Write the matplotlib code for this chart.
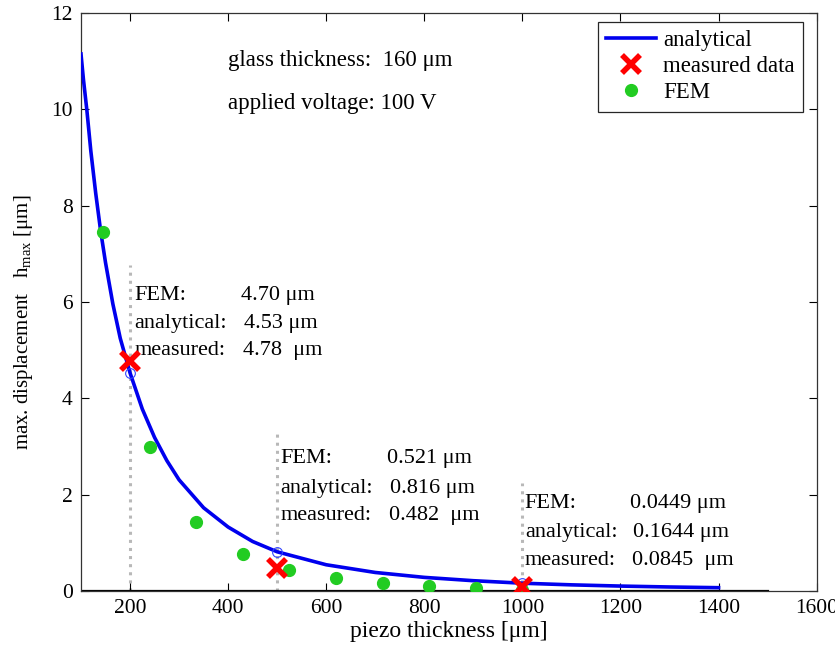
import numpy as np
import matplotlib
matplotlib.use('Agg')
import matplotlib.pyplot as plt

plt.rcParams['font.family'] = ['Liberation Serif', 'DejaVu Serif']
plt.rcParams['mathtext.fontset'] = 'custom'
plt.rcParams['mathtext.rm'] = 'Liberation Serif'
plt.rcParams['font.size'] = 16

# analytical curve
x_ana = [100, 105, 112, 120, 130, 140, 150, 165, 180, 200, 225, 250, 275, 300,
         350, 400, 450, 500, 600, 700, 800, 900, 1000, 1100, 1200, 1300, 1400]
y_ana = [11.15, 10.62, 9.98, 9.14, 8.26, 7.48, 6.82, 5.96, 5.25, 4.53, 3.78, 3.19, 2.71, 2.31,
         1.73, 1.33, 1.03, 0.816, 0.547, 0.387, 0.285, 0.216, 0.164, 0.130, 0.1045, 0.0855, 0.071]

# measured data
x_meas = [200, 500, 1000]
y_meas = [4.78, 0.482, 0.0845]
y_ana_pts = [4.53, 0.816, 0.1644]

# FEM points
x_fem = [145, 240, 335, 430, 525, 620, 715, 810, 905, 1000]
y_fem = [7.45, 3.0, 1.43, 0.77, 0.44, 0.27, 0.17, 0.10, 0.06, 0.03]

# annotation blocks
guide_top = [6.77, 3.28, 2.24]
labels = ['FEM:', 'analytical:', 'measured:']
block_values = [['4.70 μm', '4.53 μm', '4.78  μm'],
                ['0.521 μm', '0.816 μm', '0.482  μm'],
                ['0.0449 μm', '0.1644 μm', '0.0845  μm']]
label_x = [209, 507, 1005]
value_x = [(426, 432, 430), (723, 730, 728), (1219, 1225, 1223)]
block_y = [(6.14, 5.56, 5.0), (2.76, 2.14, 1.56), (1.82, 1.21, 0.64)]

fig = plt.figure(figsize=(8.35, 6.51), dpi=100)
ax = fig.add_axes([0.097, 0.092, 0.881, 0.888])

# guide lines
for xm, top in zip(x_meas, guide_top):
    ax.plot([xm, xm], [0, top], linestyle=':', color='0.72', lw=2.2, zorder=1)

ax.plot([100, 1500], [0, 0], color='black', lw=1.6, zorder=2)

ln, = ax.plot(x_ana, y_ana, color='#0000ee', lw=2.6, label='analytical', zorder=3,
              solid_joinstyle='round')
ax.plot(x_meas, y_ana_pts, linestyle='none', marker='o', mfc='none', mec='#3344ff',
        ms=7, mew=0.8, zorder=4)
fem, = ax.plot(x_fem, y_fem, linestyle='none', marker='o', color='#22cc22', ms=8.5,
               label='FEM', zorder=4)
meas, = ax.plot(x_meas, y_meas, linestyle='none', marker='x', color='red', ms=13,
                mew=4, label='measured data', zorder=5)

for lx, vxs, ys, vals in zip(label_x, value_x, block_y, block_values):
    for i in range(3):
        ax.text(lx, ys[i], labels[i], ha='left', va='center', fontsize=16)
        ax.text(vxs[i], ys[i], vals[i], ha='left', va='center', fontsize=16)

ax.text(400, 11.02, 'glass thickness:  160 μm', ha='left', va='center', fontsize=16.5)
ax.text(400, 10.13, 'applied voltage: 100 V', ha='left', va='center', fontsize=16.5)

ax.set_xlim(100, 1600)
ax.set_ylim(0, 12)
ax.set_xticks(np.arange(200, 1601, 200))
ax.set_yticks(np.arange(0, 13, 2))
ax.tick_params(direction='in', top=True, right=True, length=6, labelsize=15.5, pad=6)
for s in ax.spines.values():
    s.set_color('0.2')
    s.set_linewidth(0.9)

ax.set_xlabel('piezo thickness [μm]', fontsize=17, labelpad=2)
ax.set_ylabel(r'max. displacement   h$_{\mathrm{max}}$ [μm]', fontsize=15)
ax.yaxis.set_label_coords(-0.062, 0.465)

leg = ax.legend(handles=[ln, meas, fem], loc='upper right', bbox_to_anchor=(0.981, 0.984),
                borderaxespad=0, fancybox=False, edgecolor='0.15', framealpha=1,
                fontsize=16.5, handlelength=2.2, borderpad=0.35, labelspacing=0.22,
                handletextpad=0.3)
leg.get_frame().set_linewidth(0.9)

fig.savefig('out.png', dpi=100)
